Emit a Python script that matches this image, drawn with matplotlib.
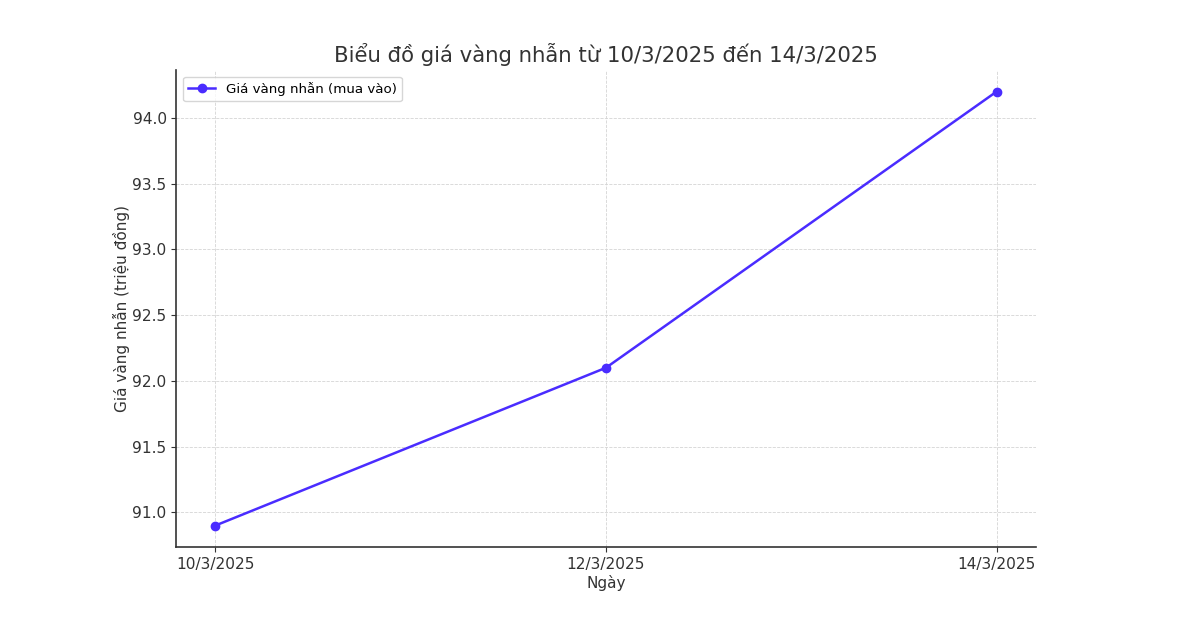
import matplotlib
matplotlib.use("Agg")
import matplotlib.pyplot as plt

dates = ["10/3/2025", "12/3/2025", "14/3/2025"]
prices = [90.9, 92.1, 94.2]
series_label = "Giá vàng nhẫn (mua vào)"
title = "Biểu đồ giá vàng nhẫn từ 10/3/2025 đến 14/3/2025"
xlabel = "Ngày"
ylabel = "Giá vàng nhẫn (triệu đồng)"

plt.rcParams['font.family'] = ['DejaVu Sans']
fig = plt.figure(figsize=(12, 6.19), dpi=100)
ax = fig.add_axes([0.147, 0.116, 0.716, 0.771])
color = "#4a2cff"
ax.plot(dates, prices, marker="o", color=color, linewidth=1.8, markersize=6, label=series_label)
ax.set_title(title, fontsize=15.3, color="#333333", pad=6)
ax.set_xlabel(xlabel, fontsize=11, color="#333333", labelpad=2)
ax.set_ylabel(ylabel, fontsize=11, color="#333333", labelpad=2)
ax.tick_params(labelsize=11.1, colors="#333333")
ax.set_yticks([91.0, 91.5, 92.0, 92.5, 93.0, 93.5, 94.0])
ax.grid(True, linestyle="--", linewidth=0.6, color="#d4d4d4")
ax.spines['top'].set_visible(False)
ax.spines['right'].set_visible(False)
for s in ('left', 'bottom'):
    ax.spines[s].set_color("#333333")
    ax.spines[s].set_linewidth(1.2)
ax.legend(loc="upper left", fontsize=9.6)
fig.savefig("out.png", dpi=100)
